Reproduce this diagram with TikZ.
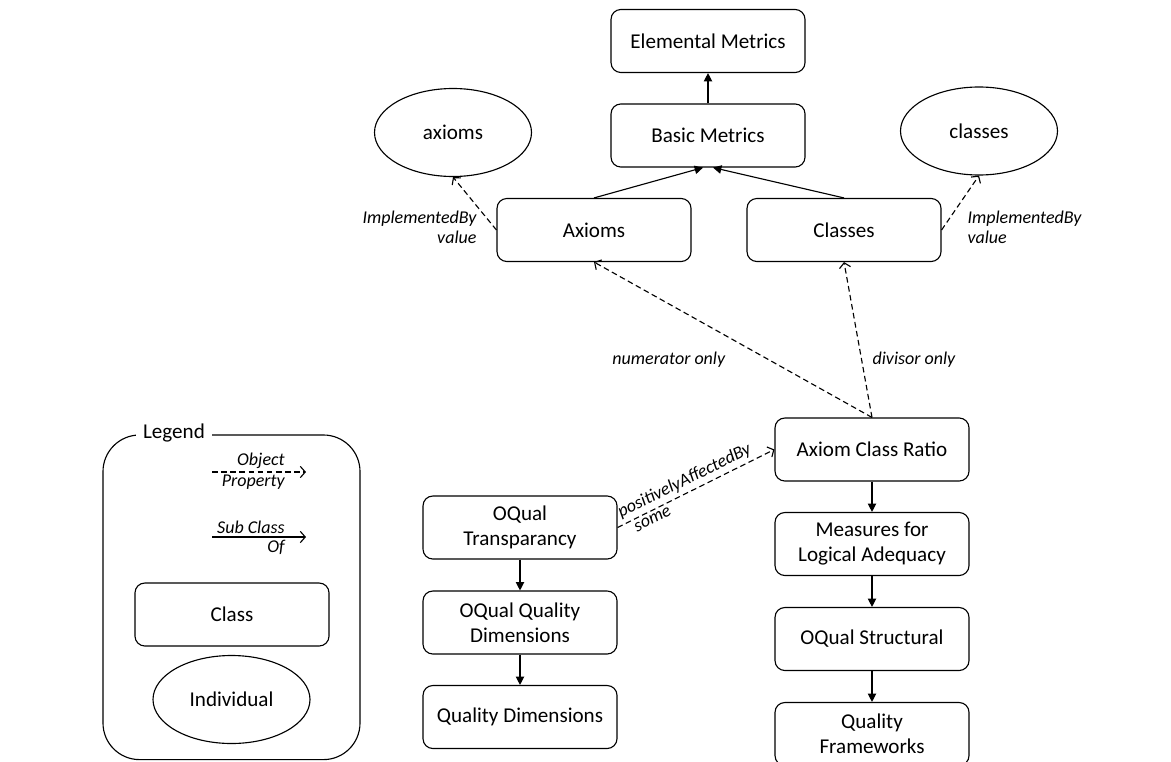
\documentclass[tikz,border=0pt]{standalone}
\usepackage{fontspec}
\setmainfont{Carlito}
\usetikzlibrary{arrows.meta,shapes.geometric}

\tikzset{
  cls/.style={draw, rounded corners=7pt, minimum width=4.85cm, minimum height=1.575cm,
    inner sep=0pt, align=center, font=\fontsize{15}{17.8}\selectfont},
  indiv/.style={draw, ellipse, minimum width=3.925cm, minimum height=2.2cm,
    inner sep=0pt, font=\fontsize{15}{17.8}\selectfont},
  lbl/.style={font=\fontsize{12.8}{14.4}\selectfont\itshape, inner sep=1pt},
  subcls/.style={-{Triangle[length=6pt,width=6pt]}},
  objprop/.style={dash pattern=on 4pt off 2.5pt, -{Straight Barb[length=3.5pt,width=8pt]}}
}

\begin{document}
\begin{tikzpicture}[line width=0.8pt]
\useasboundingbox (0,0) rectangle (29.275,-19.025);
\clip (0,0) rectangle (29.275,-19.025);

\node[cls] (elem) at (17.7,-1.025) {Elemental Metrics};
\node[cls] (basic) at (17.7,-3.3875) {Basic Metrics};
\node[indiv] (axiomsI) at (11.325,-3.3125) {axioms};
\node[indiv] (classesI) at (24.475,-3.275) {classes};
\node[cls] (axiomsC) at (14.85,-5.75) {Axioms};
\node[cls] (classesC) at (21.1,-5.75) {Classes};

\node[cls] (ratio) at (21.8,-11.2375) {Axiom Class Ratio};
\node[cls] (measures) at (21.8,-13.6) {Measures for\\Logical Adequacy};
\node[cls] (structural) at (21.8,-15.975) {OQual Structural};
\node[cls] (frameworks) at (21.8,-18.35) {Quality\\Frameworks};

\node[cls] (transp) at (13.0,-13.1875) {OQual\\Transparancy};
\node[cls] (oqualdim) at (13.0,-15.5625) {OQual Quality\\Dimensions};
\node[cls] (qualdim) at (13.0,-17.925) {Quality Dimensions};

\draw[subcls] (basic) -- (elem);
\draw[subcls] (axiomsC.north) -- ([xshift=-3.5pt]basic.south);
\draw[subcls] (classesC.north) -- ([xshift=3.5pt]basic.south);
\draw[subcls] (ratio) -- (measures);
\draw[subcls] (measures) -- (structural);
\draw[subcls] (structural) -- (frameworks);
\draw[subcls] (transp) -- (oqualdim);
\draw[subcls] (oqualdim) -- (qualdim);

\draw[objprop] (axiomsC.west) -- (axiomsI.south)
  node[lbl, pos=0, anchor=east, align=right, xshift=-0.45cm, yshift=0.075cm] (implA) {ImplementedBy\\value};
\draw[objprop] (classesC.east) -- (classesI.south)
  node[lbl, pos=0, anchor=west, align=left, xshift=0.6cm, yshift=0.075cm] (implC) {ImplementedBy\\value};
\draw[objprop] (ratio.north) -- (axiomsC.south)
  node[lbl, pos=0.37, anchor=east, xshift=-1.05cm] (numer) {numerator only};
\draw[objprop] (ratio.north) -- (classesC.south)
  node[lbl, pos=0.37, anchor=west, xshift=0.225cm] (divis) {divisor only};
\draw[objprop] (transp.east) -- (ratio.west)
  node[lbl, pos=0.46, sloped, above, inner sep=2.5pt] (posaff) {positivelyAffectedBy}
  node[lbl, pos=0.2, sloped, below, inner sep=2.5pt] (some) {some};

\draw[rounded corners=26pt] (2.575,-10.875) rectangle (9.0,-18.99);
\node[fill=white, inner xsep=5pt, inner ysep=1pt, font=\fontsize{15}{17.8}\selectfont] (legtitle) at (4.35,-10.83) {Legend};
\coordinate (op1) at (5.3,-11.8);
\coordinate (op2) at (7.65,-11.8);
\coordinate (sc1) at (5.3,-13.425);
\coordinate (sc2) at (7.65,-13.425);
\draw[objprop] (op1) -- (op2)
  node[lbl, pos=1, anchor=south east, xshift=-0.45cm, inner sep=2pt] (objtxt) {Object}
  node[lbl, pos=1, anchor=north east, xshift=-0.45cm, inner sep=2pt] (proptxt) {Property};
\draw[-{Straight Barb[length=3.5pt,width=8pt]}] (sc1) -- (sc2)
  node[lbl, pos=1, anchor=south east, xshift=-0.45cm, inner sep=2pt] (subtxt) {Sub Class}
  node[lbl, pos=1, anchor=north east, xshift=-0.45cm, inner sep=2pt] (oftxt) {Of};
\node[cls] (legcls) at (5.8,-15.3625) {Class};
\node[indiv] (legind) at (5.7875,-17.4875) {Individual};
\end{tikzpicture}
\end{document}
